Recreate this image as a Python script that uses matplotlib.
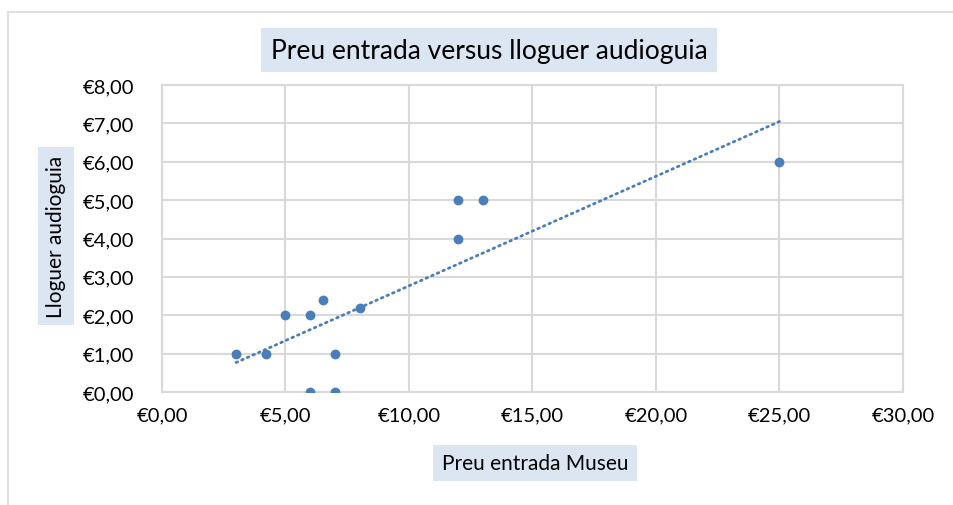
import matplotlib.pyplot as plt
import numpy as np
from matplotlib.lines import Line2D

# entry price (x) vs audio guide rent (y), in euros
preu_entrada = np.array([3.0, 4.2, 5.0, 6.0, 6.5, 8.0, 7.0, 6.0, 7.0, 12.0, 13.0, 12.0, 25.0])
lloguer = np.array([1.0, 1.0, 2.0, 2.0, 2.4, 2.2, 1.0, 0.0, 0.0, 5.0, 5.0, 4.0, 6.0])

x_ticks = [0, 5, 10, 15, 20, 25, 30]
y_ticks = [0, 1, 2, 3, 4, 5, 6, 7, 8]

blue = '#4A7EBB'
grid = '#D9D9D9'
box = '#DCE6F2'

plt.rcParams['font.family'] = ['Lato', 'DejaVu Sans']

fig = plt.figure(figsize=(9.54, 5.06), dpi=100)
ax = fig.add_axes([162/954, 1 - 393/506, (903-162)/954, (393-86)/506])

# outer chart border (left and top visible)
fig.add_artist(Line2D([8/954, 8/954], [0, 1 - 13/506], transform=fig.transFigure, color=grid, lw=1.2))
fig.add_artist(Line2D([8/954, 1], [1 - 13/506, 1 - 13/506], transform=fig.transFigure, color=grid, lw=1.2))

ax.scatter(preu_entrada, lloguer, s=50, color=blue, zorder=3, linewidths=0)

# linear trendline
k, b = np.polyfit(preu_entrada, lloguer, 1)
xs = np.array([preu_entrada.min(), preu_entrada.max()])
ax.plot(xs, k*xs + b, color=blue, lw=2.0, linestyle=(0, (0.6, 1.6)),
        dash_capstyle='round', zorder=2)

ax.set_xlim(0, 30)
ax.set_ylim(0, 8)
ax.set_xticks(x_ticks)
ax.set_yticks(y_ticks)
ax.set_xticklabels(['€%d,00' % v for v in x_ticks])
ax.set_yticklabels(['€%d,00' % v for v in y_ticks])
ax.tick_params(length=0, labelsize=14.5)
ax.tick_params(axis='y', pad=20)
ax.tick_params(axis='x', pad=10)
ax.grid(True, color=grid, lw=1.5)
ax.set_axisbelow(True)
for s in ax.spines.values():
    s.set_color(grid)
    s.set_linewidth(1.5)

fig.text(489/954, 1 - 51/506, 'Preu entrada versus lloguer audioguia', ha='center', va='center',
         fontsize=19, bbox=dict(facecolor=box, edgecolor='none', pad=7))
fig.text(535/954, 1 - 464/506, 'Preu entrada Museu', ha='center', va='center',
         fontsize=15, bbox=dict(facecolor=box, edgecolor='none', pad=6))
fig.text(56/954, 1 - 237/506, 'Lloguer audioguia', ha='center', va='center', rotation=90,
         fontsize=15, bbox=dict(facecolor=box, edgecolor='none', pad=6))

fig.savefig('out.png', dpi=100)
